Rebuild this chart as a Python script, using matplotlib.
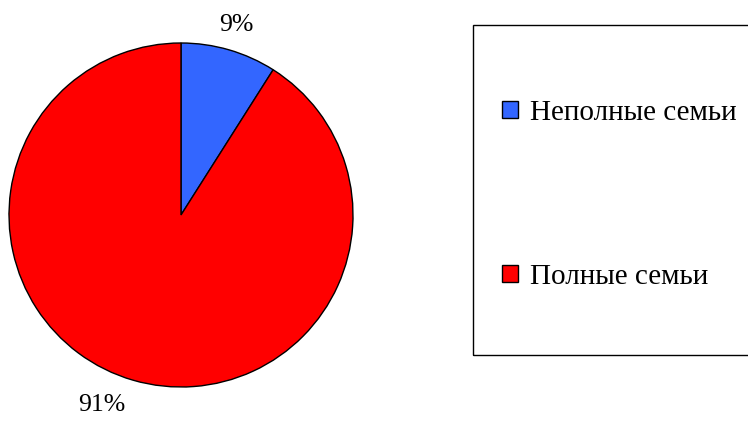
import matplotlib.pyplot as plt
from matplotlib.patches import Rectangle

labels = ["Неполные семьи", "Полные семьи"]
shares = [9, 91]
colors = ["#3366FF", "#FF0000"]

plt.rcParams['font.family'] = ['Liberation Serif', 'DejaVu Serif']

W, H = 748, 421
fig = plt.figure(figsize=(W / 100, H / 100), dpi=100)

# pie axes, placed in pixels: centre (181, 215), radius 172
cx, cy, r = 181, 215, 172
ax = fig.add_axes([(cx - r) / W, (H - cy - r) / H, 2 * r / W, 2 * r / H])
wedges, _, autotexts = ax.pie(
    shares, colors=colors, startangle=90, counterclock=False,
    autopct='%1.0f%%', pctdistance=1.15,
    wedgeprops=dict(edgecolor='black', linewidth=1.0),
    textprops=dict(fontsize=18.5, color='black'))
# labels on the left side hang outward, like the original
for t in autotexts:
    if t.get_position()[0] < 0:
        t.set_ha('right')
ax.set_xlim(-1, 1)
ax.set_ylim(-1, 1)
ax.set_aspect('equal')
ax.axis('off')

# legend box
fig.patches.append(Rectangle((473 / W, (H - 355) / H), 300 / W, 330 / H,
                             transform=fig.transFigure, fill=False,
                             edgecolor='black', linewidth=1.0))

leg = fig.legend(wedges, labels, loc='center left',
                 bbox_to_anchor=(502 / W, 1 - 195 / H),
                 frameon=False, fontsize=21, borderpad=0, borderaxespad=0,
                 handlelength=0.55, handleheight=0.55, handletextpad=0.42,
                 labelspacing=4.73)
for h in leg.legend_handles:
    h.set_edgecolor('black')
    h.set_linewidth(1.0)

fig.savefig('out.png', dpi=100)
